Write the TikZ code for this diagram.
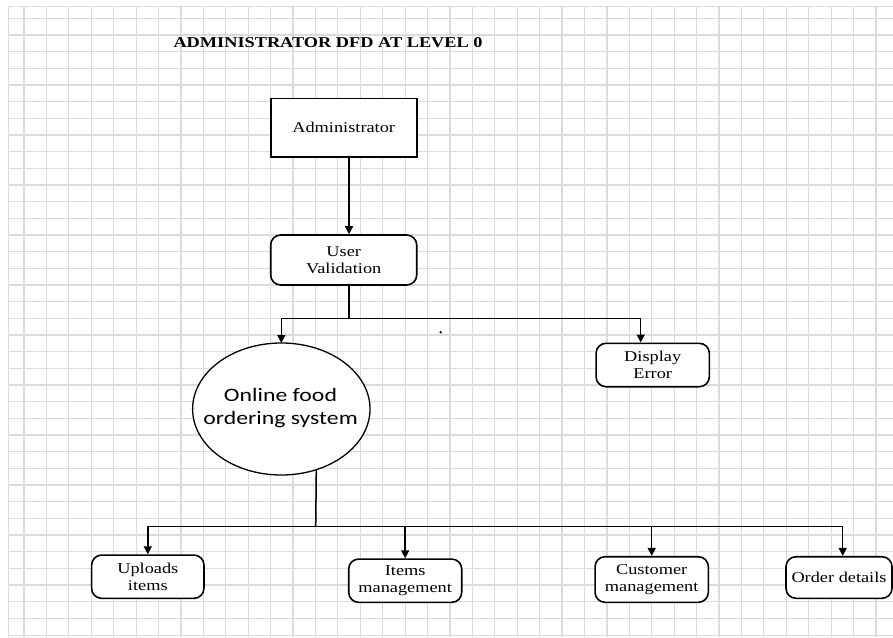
\documentclass[tikz,border=0pt]{standalone}
\usepackage{fontspec}
\setmainfont{Liberation Serif}
\newfontfamily\calibrilike{Carlito}
\usetikzlibrary{arrows.meta,shapes.geometric}

% horizontally widened text, as set in the drawing
\newcommand\widetxt[1]{\scalebox{1.22}[1]{#1}}

\tikzset{
  gridline/.style={draw=black!14, line width=1.2pt},
  flow/.style={draw=black, line width=1.5pt},
  flowarrow/.style={flow, -{Triangle[length=8pt,width=8pt]}},
  entity/.style={draw=black, line width=1.6pt, fill=white, inner sep=0pt,
    font=\fontsize{15}{16.7}\selectfont, align=center},
  procbox/.style={entity, rounded corners=10pt},
  sysbubble/.style={draw=black, line width=1.3pt, fill=white, ellipse, inner sep=0pt, outer sep=0pt},
  bubbletext/.style={font=\calibrilike\fontsize{19}{23}\selectfont, align=center, inner sep=0pt},
  heading/.style={font=\bfseries\fontsize{15}{17}\selectfont, inner sep=0pt, anchor=base west}
}

\begin{document}
\begin{tikzpicture}[x=1pt, y=-1pt]
  \useasboundingbox (0,0) rectangle (893,637);
  \fill[white] (0,0) rectangle (893,637);

  % squared paper
  \foreach \i in {0,...,38}
    \draw[gridline] ({24+22.42*\i},6.7) -- ({24+22.42*\i},637);
  \foreach \j in {0,...,37}
    \draw[gridline] (8.3,{18.3+16.67*\j}) -- (893,{18.3+16.67*\j});
  \draw[gridline] (8.3,6.7) -- (893,6.7);
  \draw[gridline] (8.3,6.7) -- (8.3,637);

  % heading
  \node[heading] (title) at (173.3,47.3) {\widetxt{ADMINISTRATOR DFD AT LEVEL 0}};

  % nodes
  \node[entity, minimum width=146pt, minimum height=58.4pt] (admin) at (343.7,127.5)
    {\widetxt{Administrator}};
  \node[procbox, minimum width=146pt, minimum height=50pt] (uv) at (343.7,260)
    {\widetxt{User}\\\widetxt{Validation}};
  \node[sysbubble, minimum width=177.4pt, minimum height=132pt] (ofos) at (281.3,409) {};
  \node[bubbletext] (ofostext) at (280.5,408.5)
    {\scalebox{1.25}[1]{Online food}\\\scalebox{1.25}[1]{ordering system}};
  \node[procbox, minimum width=113.3pt, minimum height=43.4pt] (disp) at (652.7,365)
    {\widetxt{Display}\\\widetxt{Error}};
  \node[procbox, minimum width=112.3pt, minimum height=43.3pt] (up) at (147.8,576.7)
    {\widetxt{Uploads}\\\widetxt{items}};
  \node[procbox, minimum width=113pt, minimum height=43.3pt] (items) at (405.2,580.7)
    {\widetxt{Items}\\\widetxt{management}};
  \node[procbox, minimum width=113.3pt, minimum height=45.6pt] (cust) at (651.7,579.5)
    {\widetxt{Customer}\\\widetxt{management}};
  \node[procbox, minimum width=106pt, minimum height=41.6pt] (order) at (839,577.5)
    {\widetxt{Order details}};

  % stray dot on the sheet
  \node[circle, fill=black, inner sep=0pt, minimum size=2.6pt] (speck) at (440.7,332.3) {};

  % junctions
  \coordinate (j1) at (349,318.3);
  \coordinate (j2) at (315.7,526.7);

  % flows
  \draw[flowarrow] ([xshift=5.3pt]admin.south) -- ([xshift=5.3pt]uv.north);
  \draw[flow] ([xshift=5.3pt]uv.south) -- (j1);
  \draw[flowarrow] (j1) -| (ofos);
  \draw[flowarrow] (j1) -| ([xshift=-12pt]disp.north);

  \draw[flow] (ofos.-60.5) -- (j2);
  \draw[flowarrow] (j2) -| (up);
  \draw[flowarrow] (j2) -| (items);
  \draw[flowarrow] (j2) -| (cust);
  \draw[flowarrow] (j2) -| ([xshift=3.7pt]order.north);
\end{tikzpicture}
\end{document}
